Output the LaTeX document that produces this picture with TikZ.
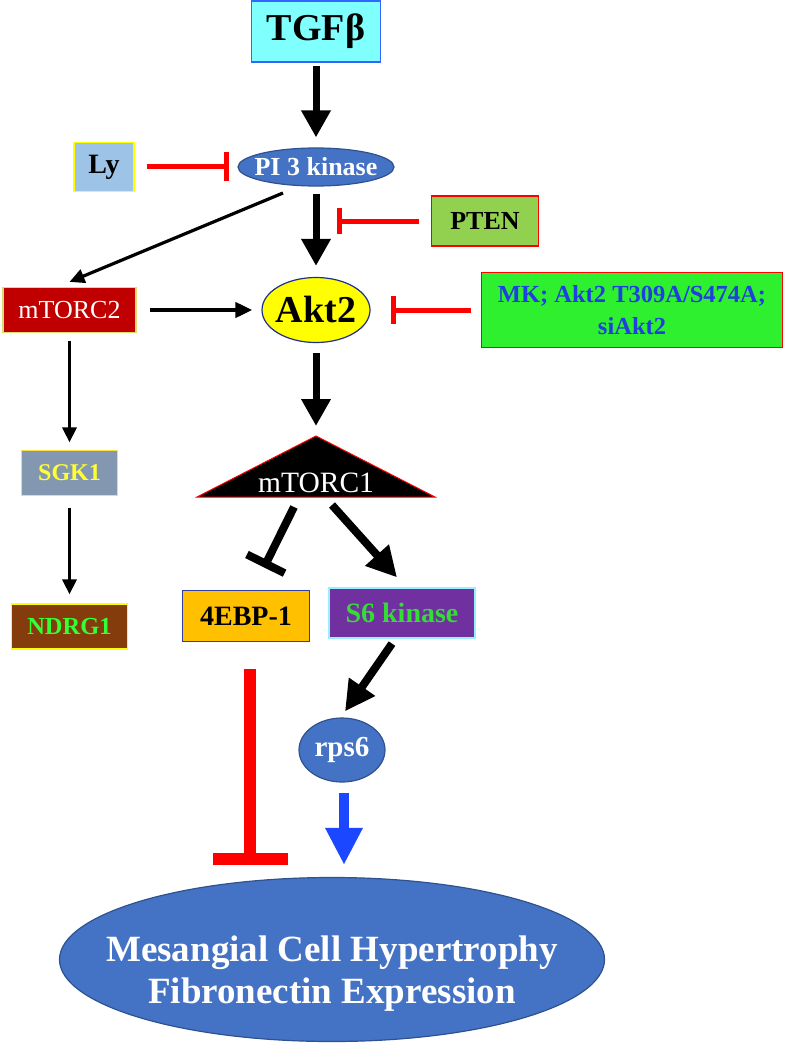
\documentclass[tikz,border=0pt]{standalone}
\usepackage{fontspec}
\setmainfont{Liberation Serif}
\usetikzlibrary{arrows.meta,shapes.geometric,calc}
\definecolor{tgfc}{HTML}{80FFFF}
\definecolor{tgfb}{HTML}{3366FF}
\definecolor{pib}{HTML}{4472C4}
\definecolor{pibd}{HTML}{2F528F}
\definecolor{lyc}{HTML}{9DC3E6}
\definecolor{yb}{HTML}{FFFF00}
\definecolor{ptenc}{HTML}{92D050}
\definecolor{redc}{HTML}{FF0000}
\definecolor{aktb}{HTML}{1F2F8F}
\definecolor{mtc}{HTML}{C00000}
\definecolor{mtb}{HTML}{D8E070}
\definecolor{mkc}{HTML}{2EF02E}
\definecolor{mkt}{HTML}{1F3FE0}
\definecolor{sgkc}{HTML}{8497B0}
\definecolor{sgkb}{HTML}{FFE040}
\definecolor{sgkt}{HTML}{FFFF33}
\definecolor{ndc}{HTML}{843C0C}
\definecolor{ndt}{HTML}{33FF33}
\definecolor{ebpc}{HTML}{FFC000}
\definecolor{ebpb}{HTML}{2F3F9F}
\definecolor{s6c}{HTML}{7030A0}
\definecolor{s6b}{HTML}{99EEFF}
\definecolor{s6t}{HTML}{33DD33}
\definecolor{bluea}{HTML}{1A47FF}
\newcommand\fsz[1]{\fontsize{#1}{#1}\selectfont}
\begin{document}
\begin{tikzpicture}[x=1pt,y=-1pt,
  box/.style={draw, line width=1.2pt, inner sep=0pt, font=\bfseries},
  ell/.style={ellipse, draw, line width=1.2pt, inner sep=0pt, font=\bfseries},
  bigarr/.style={line width=7pt, -{Triangle[length=27pt,width=28pt]}},
  thinarr/.style={line width=3.2pt, -{Triangle[length=15pt,width=14pt]}},
  redinh/.style={draw=redc, line width=5pt, -{Bar[width=29pt]}},
  blkinh/.style={line width=8pt, -{Bar[width=42pt]}}]
\useasboundingbox (0,0) rectangle (788,1043);

% nodes
\node[box, fill=tgfc, draw=tgfb, minimum width=129pt, minimum height=61pt] (tgf) at (316,31.5) {\fsz{38}TGFβ};
\node[ell, fill=pib, draw=pibd, minimum width=156pt, minimum height=38pt] (pi3k) at (316,167) {\makebox[0pt]{\color{white}\fsz{26}PI 3 kinase}};
\node[box, fill=lyc, draw=yb, minimum width=60pt, minimum height=49pt] (ly) at (104,167) {\fsz{28}Ly};
\node[box, fill=ptenc, draw=redc, minimum width=107pt, minimum height=50pt] (pten) at (485,221) {\fsz{26}PTEN};
\node[ell, fill=yb, draw=aktb, minimum width=108pt, minimum height=65pt] (akt2) at (316,310) {\makebox[0pt]{\fsz{38}Akt2}};
\node[box, fill=mtc, draw=mtb, minimum width=133pt, minimum height=45pt, font=\mdseries] (mtorc2) at (69.5,310) {\color{white}\fsz{26}mTORC2};
\node[box, fill=mkc, draw=redc, minimum width=301pt, minimum height=75pt, align=center, text=mkt, font=\bfseries\fontsize{24.5}{32}\selectfont] (mk) at (632,310) {MK; Akt2 T309A/S474A;\\ siAkt2};
\coordinate (m1apex) at (316,436);
\fill[black] (316,436) -- (435,497) -- (197,497) -- cycle;
\draw[redc, line width=1pt, line join=miter] (316,436) -- (435,497) -- (197,497) -- cycle;
\node[inner sep=0pt, text=white] (mtorc1) at (316,483) {\fsz{29.5}mTORC1};
\node[box, fill=sgkc, draw=sgkb, minimum width=96pt, minimum height=45pt] (sgk1) at (69.5,473) {\color{sgkt}\fsz{24}SGK1};
\node[box, fill=ndc, draw=yb, minimum width=116pt, minimum height=45pt] (ndrg1) at (69.5,626.5) {\color{ndt}\fsz{24.5}NDRG1};
\node[box, fill=ebpc, draw=ebpb, minimum width=127pt, minimum height=51pt] (ebp) at (246,616) {\fsz{28}4EBP-1};
\node[box, fill=s6c, draw=s6b, minimum width=146pt, minimum height=50pt] (s6) at (402,613) {\color{s6t}\fsz{28}S6 kinase};
\node[ell, fill=pib, draw=pibd, minimum width=86pt, minimum height=64pt] (rps6) at (342,750) {\makebox[0pt]{\color{white}\fsz{29}rps6}};
\node[ell, fill=pib, draw=pibd, minimum width=545pt, minimum height=164pt] (big) at (332,959.5) {\makebox[0pt]{\raisebox{-20.5pt}[0pt][0pt]{\color{white}\fontsize{37}{42}\selectfont\begin{tabular}{@{}c@{}}Mesangial Cell Hypertrophy\\ Fibronectin Expression\end{tabular}}}};

% connectors
\draw[bigarr] ($(tgf.south)+(0,3.5)$) -- ($(pi3k.north)+(0,-10)$);
\draw[redinh] ($(ly.east)+(12,0)$) -- ($(pi3k.west)+(-8,0)$);
\draw[bigarr] ($(pi3k.south)+(0,7)$) -- ($(akt2.north)+(0,-11)$);
\draw[redinh, -{Bar[width=26pt]}] ($(pten.west)+(-12,0)$) -- ($(pten.west)+(-94,0)$);
\draw[thinarr] ($(pi3k)+(-33,26)$) -- ($(mtorc2.north)+(0,-5)$);
\draw[line width=4pt, -{Triangle[length=17pt,width=15pt]}] ($(mtorc2.east)+(13.5,0)$) -- ($(akt2.west)+(-9,0)$);
\draw[redinh, -{Bar[width=28pt]}] ($(mk.west)+(-9.5,0)$) -- ($(akt2.east)+(20,0)$);
\draw[bigarr] ($(akt2.south)+(0,10)$) -- ($(m1apex)+(0,-10)$);
\draw[thinarr] ($(mtorc2.south)+(0,8)$) -- ($(sgk1.north)+(0,-7.5)$);
\draw[thinarr] ($(sgk1.south)+(0,11.5)$) -- ($(ndrg1.north)+(0,-9)$);
\draw[blkinh] ($(mtorc1)+(-22,24)$) -- ($(ebp.north)+(18,-22.5)$);
\draw[bigarr, line width=8pt, -{Triangle[length=30pt,width=30pt]}] ($(mtorc1)+(16,22)$) -- ($(s6.north)+(-5,-10)$);
\draw[bigarr, line width=8pt, -{Triangle[length=30pt,width=30pt]}] ($(s6.south)+(-10,5)$) -- ($(rps6.north)+(3,-6)$);
\draw[draw=redc, line width=12pt, -{Bar[width=75pt]}] ($(ebp.south)+(4,26.5)$) -- ($(big.north)+(-82,-12)$);
\draw[draw=bluea, line width=10pt, -{Triangle[length=37pt,width=35pt]}] ($(rps6.south)+(2,10)$) -- ($(big.north)+(12,-12)$);
\end{tikzpicture}
\end{document}
